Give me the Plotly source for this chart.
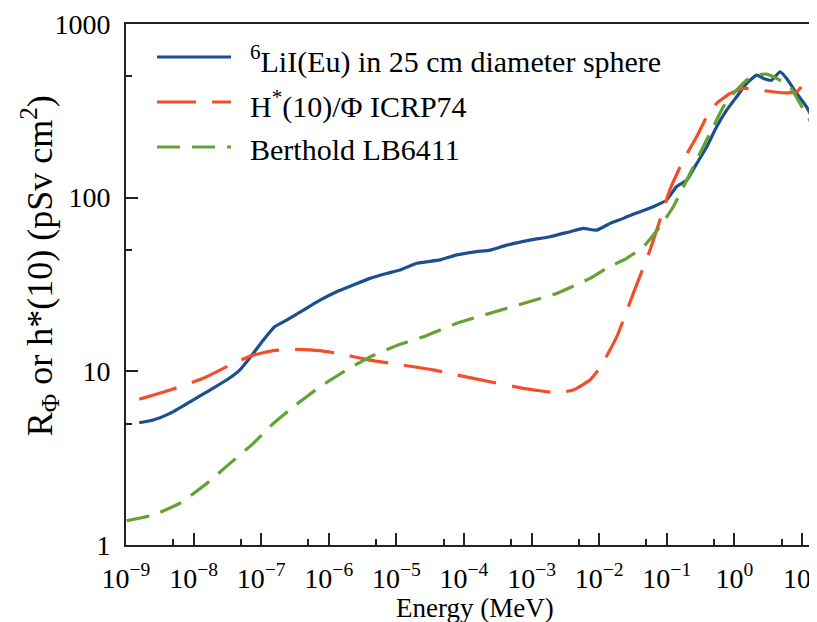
import plotly.graph_objects as go

# ---- data ----
lii_energy = [1.57e-9, 2.54e-9, 4.48e-9, 8.85e-9, 1.75e-8, 3.08e-8, 4.85e-8, 7.64e-8, 1.07e-7, 1.60e-7,
              2.38e-7, 4.20e-7, 7.41e-7, 1.31e-6, 2.31e-6, 4.06e-6, 7.18e-6, 1.13e-5, 2.00e-5, 4.42e-5,
              7.80e-5, 1.54e-4, 2.43e-4, 4.29e-4, 9.46e-4, 1.87e-3, 3.70e-3, 5.82e-3, 9.19e-3, 1.45e-2,
              2.28e-2, 2.55e-2, 4.02e-2, 6.32e-2, 9.95e-2, 0.140, 0.197, 0.277, 0.389, 0.547,
              0.769, 1.08, 1.52, 2.14, 2.69, 3.56, 4.73, 5.94, 8.36, 11.7, 16.7]
lii_response = [5.06, 5.25, 5.73, 6.68, 7.80, 8.91, 10.2, 12.7, 15.1, 18.1,
                19.7, 22.5, 25.7, 28.7, 31.4, 34.3, 36.6, 38.3, 41.9, 43.8,
                46.8, 48.9, 49.9, 53.3, 57.0, 59.6, 63.7, 66.5, 65.0, 71.1,
                76.0, 77.6, 83.0, 88.7, 96.8, 116, 126, 157, 196, 256,
                319, 381, 455, 508, 486, 475, 531, 486, 398, 333, 256]

icrp_energy = [1.57e-9, 4.48e-9, 1.39e-8, 4.34e-8, 7.64e-8, 1.51e-7, 2.99e-7, 7.41e-7, 1.84e-6, 4.06e-6,
               1.01e-5, 3.52e-5, 7.80e-5, 2.43e-4, 7.53e-4, 1.33e-3, 2.35e-3, 4.14e-3, 7.31e-3, 1.03e-2,
               1.82e-2, 3.20e-2, 5.64e-2, 7.93e-2, 0.111, 0.175, 0.277, 0.389, 0.547, 0.861,
               1.36, 2.39, 5.01, 8.36, 11.7, 16.7]
icrp_h10 = [6.90, 7.80, 9.12, 11.35, 12.4, 13.15, 13.4, 13.15, 12.4, 11.6,
            11.0, 10.2, 9.53, 8.71, 7.98, 7.73, 7.53, 7.80, 8.91, 10.5,
            15.8, 28.1, 49.9, 74.3, 111, 164, 224, 292, 349, 398,
            426, 416, 402, 407, 475, 568]

lb_energy = [1.02e-9, 2.54e-9, 6.30e-9, 1.56e-8, 3.45e-8, 7.64e-8, 1.51e-7, 2.99e-7, 7.41e-7, 1.84e-6,
             4.06e-6, 1.13e-5, 2.50e-5, 7.80e-5, 2.43e-4, 7.53e-4, 2.35e-3, 7.31e-3, 1.29e-2, 2.55e-2,
             4.50e-2, 7.93e-2, 0.125, 0.197, 0.310, 0.488, 0.685, 0.964, 1.52, 2.14,
             3.01, 4.23, 6.65, 9.35, 13.9, 16.7]
lb_response = [1.38, 1.49, 1.74, 2.26, 2.95, 3.85, 5.01, 6.25, 8.15, 10.2,
               12.1, 14.3, 15.8, 18.9, 21.6, 24.6, 28.1, 34.3, 39.2, 44.7,
               52.1, 68.1, 88.7, 126, 180, 256, 333, 398, 475, 508,
               515, 486, 435, 349, 268, 235]

x_tickvals = [1e-9, 1e-8, 1e-7, 1e-6, 1e-5, 1e-4, 1e-3, 1e-2, 1e-1, 1e0, 1e1]
x_ticktext = ["10<sup>\u22129</sup>", "10<sup>\u22128</sup>", "10<sup>\u22127</sup>", "10<sup>\u22126</sup>",
              "10<sup>\u22125</sup>", "10<sup>\u22124</sup>", "10<sup>\u22123</sup>", "10<sup>\u22122</sup>",
              "10<sup>\u22121</sup>", "10<sup>0</sup>", "10<sup>1</sup>"]
x_minor = [5e-9, 5e-8, 5e-7, 5e-6, 5e-5, 5e-4, 5e-3, 5e-2, 5e-1, 5e0]
y_tickvals = [1, 10, 100, 1000]
y_ticktext = ["1", "10", "100", "1000"]
y_minor = [5, 50, 500]

names = ["<sup>6</sup>LiI(Eu) in 25 cm diameter sphere", "H<sup>*</sup>(10)/\u03a6 ICRP74", "Berthold LB6411"]
colors = ["#1d4f8f", "#f34e27", "#62a332"]
dashes = ["solid", "39px,16px", "23px,12px"]

FONT = "'Liberation Serif', 'Times New Roman', Times, serif"

fig = go.Figure()
series = [(lii_energy, lii_response), (icrp_energy, icrp_h10), (lb_energy, lb_response)]
for (xs, ys), name, c, d in zip(series, names, colors, dashes):
    fig.add_trace(go.Scatter(x=xs, y=ys, mode="lines", name=name, showlegend=False,
                             line=dict(color=c, width=3.2, dash=d, shape="spline", smoothing=0.4)))

# manual legend
rows_y = [0.9367, 0.8503, 0.7639]
for name, c, d, yy in zip(names, colors, dashes, rows_y):
    fig.add_shape(type="line", xref="paper", yref="paper", x0=0.0449, x1=0.1520, y0=yy, y1=yy,
                  line=dict(color=c, width=3.2, dash=d))
    fig.add_annotation(xref="paper", yref="paper", x=0.1766, y=yy - 0.004, text=name, showarrow=False,
                       xanchor="left", yanchor="middle", font=dict(family=FONT, size=30, color="black"))

fig.add_annotation(xref="paper", yref="paper", x=0.505, y=-0.121, text="Energy (MeV)", showarrow=False,
                   xanchor="center", yanchor="middle", font=dict(family=FONT, size=27, color="black"))
fig.add_annotation(xref="paper", yref="paper", x=-0.1245, y=0.537,
                   text="R<sub>\u03a6</sub> or h*(10) (pSv cm<sup>2</sup>)", showarrow=False, textangle=-90,
                   xanchor="center", yanchor="middle", font=dict(family=FONT, size=36, color="black"))

axis_common = dict(type="log", showgrid=False, zeroline=False, showline=True, linecolor="#222",
                   linewidth=2, ticks="inside", tickcolor="#222", tickwidth=1.6, ticklen=12,
                   tickfont=dict(family=FONT, size=28, color="black"), automargin=False)

fig.update_xaxes(**axis_common, range=[-9, 1.2225], tickmode="array", tickvals=x_tickvals,
                 ticktext=x_ticktext, mirror=True, ticklabeloverflow="allow", ticklabelstandoff=7,
                 minor=dict(tickmode="array", tickvals=x_minor, ticks="inside", ticklen=6,
                            tickcolor="#222", tickwidth=1.6))
fig.update_yaxes(**axis_common, range=[0, 3], tickmode="array", tickvals=y_tickvals,
                 ticktext=y_ticktext, mirror=False, ticklabelstandoff=8,
                 minor=dict(tickmode="array", tickvals=y_minor, ticks="inside", ticklen=6,
                            tickcolor="#222", tickwidth=1.6))

# the page adds an 8px body margin, so the figure is offset by 8px; compensate
fig.update_layout(width=809, height=614, margin=dict(l=118, r=0, t=16, b=77),
                  paper_bgcolor="white", plot_bgcolor="white", showlegend=False)

fig.write_html("out.html")
